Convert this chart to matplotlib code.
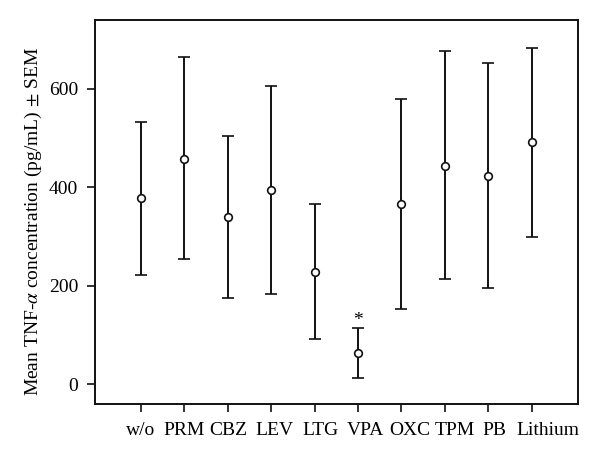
import matplotlib
matplotlib.use('Agg')
import matplotlib.pyplot as plt
import matplotlib.transforms as mtransforms

# ── data ─────────────────────────────────────────────────────────────────────
drugs = ['w/o', 'PRM', 'CBZ', 'LEV', 'LTG', 'VPA', 'OXC', 'TPM', 'PB', 'Lithium']
means = [378, 458, 340, 395, 229, 64, 366, 444, 424, 492]
upper = [533, 664, 505, 605, 366, 115, 580, 677, 652, 683]
lower = [223, 254, 176, 184, 92, 13, 152, 213, 195, 299]
signif = ['', '', '', '', '', '*', '', '', '', '']
# labels in the original drift a little to the right of their ticks (pixels)
label_shift = [0, 0, 1, 3, 6, 7, 8, 10, 6, 16]

plt.rcParams['font.family'] = ['Liberation Serif', 'DejaVu Serif']
plt.rcParams['mathtext.fontset'] = 'stix'

fig = plt.figure(figsize=(6, 4.62), dpi=100)
ax = fig.add_axes([0.158, 0.1255, 0.805, 0.8312])

x = list(range(1, len(drugs) + 1))
yerr = [[m - lo for m, lo in zip(means, lower)],
        [hi - m for m, hi in zip(means, upper)]]
ax.errorbar(x, means, yerr=yerr, fmt='o', color='#111111', mfc='white',
            mec='#111111', ms=5.5, mew=1.2, elinewidth=1.4, capsize=4.5,
            capthick=1.4)

for xi, hi, s in zip(x, upper, signif):
    if s:
        ax.annotate(s, (xi, hi), xytext=(0, -1), textcoords='offset points',
                    ha='center', va='bottom', fontsize=14)

ax.set_xlim(-0.06, 11.06)
ax.set_ylim(-40, 740)
ax.set_xticks(x)
ax.set_xticklabels(drugs)
ax.set_yticks([0, 200, 400, 600])
ax.tick_params(labelsize=14, length=6, width=1.2, color='#111111')
ax.tick_params(axis='x', pad=7)
ax.tick_params(axis='y', pad=6)
for lab, dx in zip(ax.get_xticklabels(), label_shift):
    lab.set_transform(lab.get_transform() +
                      mtransforms.ScaledTranslation(dx / 100, 0, fig.dpi_scale_trans))

ax.set_ylabel(r'Mean TNF-$\alpha$ concentration (pg/mL) $\pm$ SEM', fontsize=14)
ax.yaxis.set_label_coords(-0.106, 0.474)
for sp in ax.spines.values():
    sp.set_linewidth(1.4)
    sp.set_color('#111111')

fig.savefig('out.png', dpi=100)
